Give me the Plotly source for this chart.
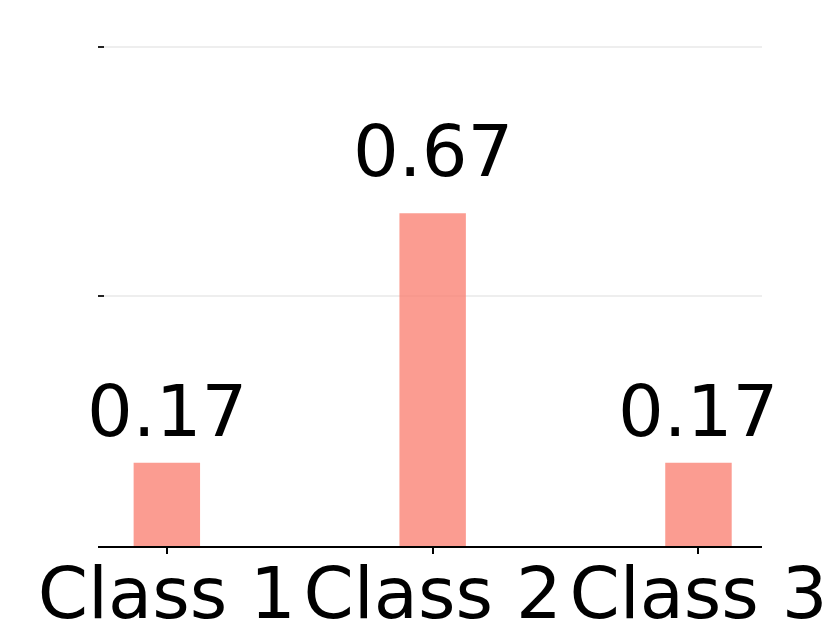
import plotly.graph_objects as go

categories = ["Class 1", "Class 2", "Class 3"]
values = [1/6, 4/6, 1/6]
labels = ["0.17", "0.67", "0.17"]
y_ticks = [0, 0.5, 1.0]

# pixel gap between each bar top and its label (style only)
label_gap_px = [8, 18, 8]

x_pos = list(range(len(categories)))

fig = go.Figure()
fig.add_trace(go.Bar(
    x=x_pos, y=values, width=0.25,
    marker=dict(color="rgba(250,128,114,0.78)", line=dict(width=0)),
    hoverinfo="skip",
))

for xp, v, t, g in zip(x_pos, values, labels, label_gap_px):
    fig.add_annotation(x=xp, y=v, text=t, showarrow=False, yanchor="bottom",
                       xanchor="center", yshift=g,
                       font=dict(family="DejaVu Sans", size=72, color="black"))

fig.update_layout(
    width=830, height=623,
    margin=dict(l=98, r=68, t=37, b=77, autoexpand=False),
    paper_bgcolor="white", plot_bgcolor="white",
    showlegend=False,
    font=dict(family="DejaVu Sans", color="black"),
)
fig.update_xaxes(
    range=[-0.259, 2.239], tickmode="array", tickvals=x_pos, ticktext=categories,
    tickfont=dict(size=72, family="DejaVu Sans", color="black"),
    ticks="outside", ticklen=6, tickwidth=1.5, tickcolor="black",
    ticklabelstandoff=-22,
    showline=True, linecolor="black", linewidth=1.5,
    showgrid=False, zeroline=False, automargin=False,
)
fig.update_yaxes(
    range=[0, 1.02], tickmode="array", tickvals=y_ticks,
    showticklabels=False, ticks="inside", ticklen=6, tickwidth=2, tickcolor="#222",
    showgrid=True, gridcolor="#EEEEEE", gridwidth=1.5,
    showline=False, zeroline=False, automargin=False,
)

fig.write_html("out.html", config={"displayModeBar": False},
               post_script="document.body.style.margin='0';")
